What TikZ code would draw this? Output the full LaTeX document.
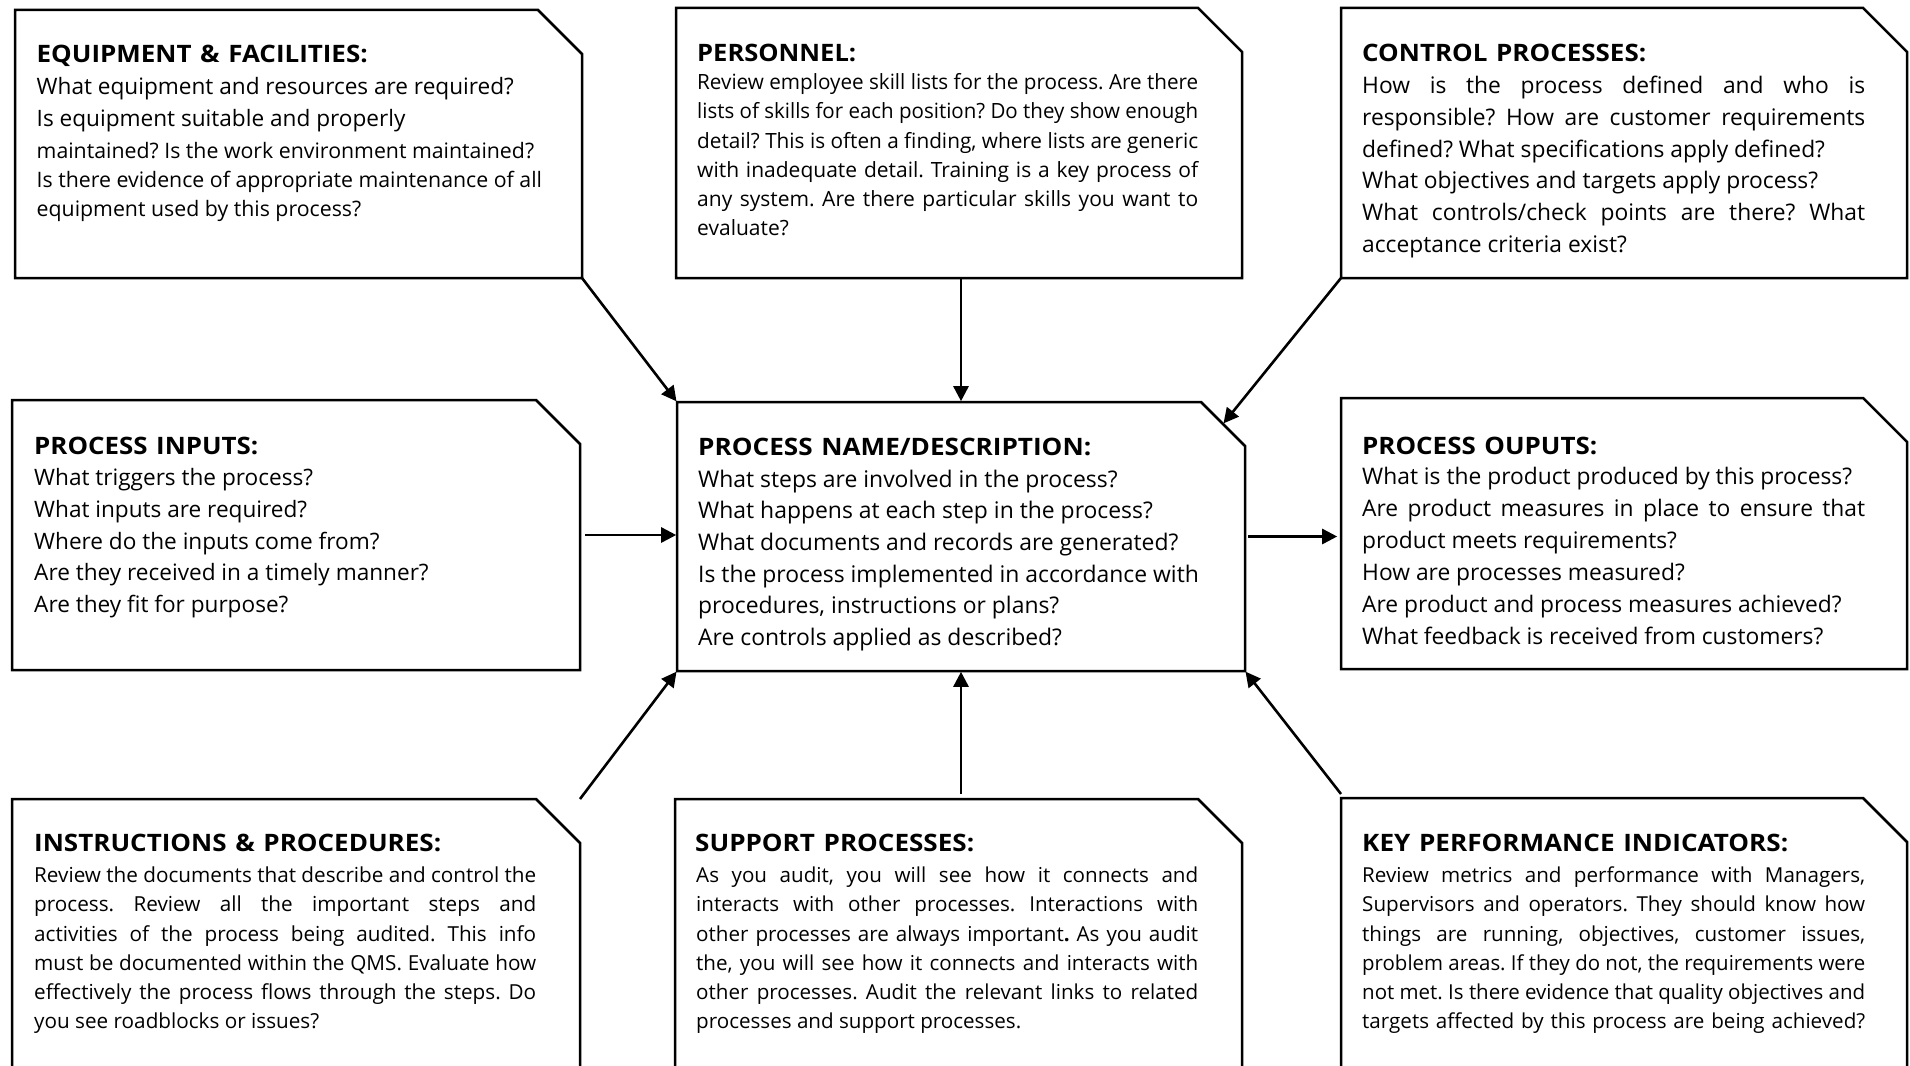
\documentclass[tikz,border=0pt]{standalone}
\usepackage{graphicx}
\usepackage{fontspec}
\setmainfont{Open Sans}
\usetikzlibrary{arrows.meta,fit}
\newsavebox\jlbox
\newcommand\jl[1]{\sbox\jlbox{\spaceskip=0pt\xspaceskip=0pt\frenchspacing #1}\ifdim\wd\jlbox>\linewidth\resizebox{\linewidth}{\height}{\usebox\jlbox}\else\makebox[\linewidth][s]{\spaceskip=0pt\xspaceskip=0pt\frenchspacing #1}\fi}
\newcommand\fitw[2]{\resizebox{#1pt}{\height}{#2}}
\newcommand\fs[2]{\fontsize{#1pt}{#2pt}\selectfont\frenchspacing}
\newcommand\chbox[1]{\draw[boxline] (#1.south west) -- (#1.north west) -- ([xshift=-44pt]#1.north east) -- ([yshift=-44pt]#1.north east) -- (#1.south east) -- cycle;}
\tikzset{
 boxn/.style={inner sep=0pt, outer sep=0pt, draw=none},
 boxline/.style={line width=2.5pt, line join=miter},
 ttl/.style={anchor=base west, inner sep=0pt, text width=500pt, align=left, font=\fs{24}{28}\bfseries},
 body/.style={anchor=base west, inner sep=0pt, align=justify},
 arr/.style={line width=2.6pt, -{Triangle[length=15pt,width=15pt]}, shorten >=0.8pt}
}
\begin{document}
\frenchspacing
\begin{tikzpicture}[x=1pt,y=-1pt]
\useasboundingbox (0,0) rectangle (1910,1065);
\fill[white] (0,0) rectangle (1910,1065);
\clip (0,0) rectangle (1910,1065);
% boxes
\node[boxn, fit={(15,10) (582,278)}] (B1) {};
\node[boxn, fit={(676,8) (1242,278)}] (B2) {};
\node[boxn, fit={(1341,8) (1907,278)}] (B3) {};
\node[boxn, fit={(12,400) (580,670)}] (B4) {};
\node[boxn, fit={(677,402) (1245,671)}] (B5) {};
\node[boxn, fit={(1341,398) (1907,669)}] (B6) {};
\node[boxn, fit={(12,799) (580,1080)}] (B7) {};
\node[boxn, fit={(675,799) (1242,1080)}] (B8) {};
\node[boxn, fit={(1341,798) (1907,1080)}] (B9) {};
\chbox{B1}\chbox{B2}\chbox{B3}\chbox{B4}\chbox{B5}\chbox{B6}\chbox{B7}\chbox{B8}\chbox{B9}
% titles
\node[ttl] (T1) at (36.5,62.2) {\fitw{331}{EQUIPMENT \& FACILITIES:}};
\node[ttl] (T2) at (697,61.2) {\fitw{159}{PERSONNEL:}};
\node[ttl] (T3) at (1362,61.2) {\fitw{284}{CONTROL PROCESSES:}};
\node[ttl] (T4) at (34,454.2) {\fitw{224}{PROCESS INPUTS:}};
\node[ttl] (T5) at (698,455.2) {\fitw{393}{PROCESS NAME/DESCRIPTION:}};
\node[ttl] (T6) at (1362,454.2) {\fitw{235}{PROCESS OUPUTS:}};
\node[ttl] (T7) at (34,851.2) {\fitw{407}{INSTRUCTIONS \& PROCEDURES:}};
\node[ttl] (T8) at (695,851.2) {\fitw{279}{SUPPORT PROCESSES:}};
\node[ttl] (T9) at (1362,851.2) {\fitw{426}{KEY PERFORMANCE INDICATORS:}};
% bodies
\node[body, text width=540pt, font=\fs{22.6}{31.6}] (b1a) at (36.5,94.9)
 {What equipment and resources are required?\\Is equipment suitable and properly};
\node[body, text width=540pt, font=\fs{21.3}{29.2}] (b1b) at (36.5,158.4)
 {maintained? Is the work environment maintained?\\Is there evidence of appropriate maintenance of all\\equipment used by this process?};
\node[body, text width=501pt, font=\fs{21}{29.24}] (b2) at (697,89.7)
 {\jl{Review employee skill lists for the process. Are there}\\
  \jl{lists of skills for each position? Do they show enough}\\
  \jl{detail? This is often a finding, where lists are generic}\\
  \jl{with inadequate detail. Training is a key process of}\\
  \jl{any system. Are there particular skills you want to}\\
  evaluate?};
\node[body, text width=503pt, font=\fs{22.8}{31.66}] (b3) at (1362,93.7)
 {\jl{How is the process defined and who is}\\
  \jl{responsible? How are customer requirements}\\
  defined? What specifications apply defined?\\
  What objectives and targets apply process?\\
  \jl{What controls/check points are there? What}\\
  acceptance criteria exist?};
\node[body, text width=540pt, font=\fs{22.6}{31.65}] (b4) at (34,485.9)
 {What triggers the process?\\What inputs are required?\\Where do the inputs come from?\\Are they received in a timely manner?\\Are they fit for purpose?};
\node[body, text width=540pt, font=\fs{22.9}{31.66}] (b5) at (698,487.1)
 {What steps are involved in the process?\\What happens at each step in the process?\\What documents and records are generated?\\Is the process implemented in accordance with\\procedures, instructions or plans?\\Are controls applied as described?};
\node[body, text width=503pt, font=\fs{22.8}{31.9}] (b6) at (1362,484.6)
 {What is the product produced by this process?\\
  \jl{Are product measures in place to ensure that}\\
  product meets requirements?\\How are processes measured?\\Are product and process measures achieved?\\What feedback is received from customers?};
\node[body, text width=502pt, font=\fs{20.7}{29.24}] (b7) at (34,882.6)
 {\jl{Review the documents that describe and control the}\\
  \jl{process. Review all the important steps and}\\
  \jl{activities of the process being audited. This info}\\
  \jl{must be documented within the QMS. Evaluate how}\\
  \jl{effectively the process flows through the steps. Do}\\
  you see roadblocks or issues?};
\node[body, text width=502pt, font=\fs{20.6}{29.24}] (b8) at (696,882.6)
 {\jl{As you audit, you will see how it connects and}\\
  \jl{interacts with other processes. Interactions with}\\
  \jl{other processes are always important\textbf{.} As you audit}\\
  \jl{the, you will see how it connects and interacts with}\\
  \jl{other processes. Audit the relevant links to related}\\
  processes and support processes.};
\node[body, text width=503pt, font=\fs{20.6}{29.24}] (b9) at (1362,882.6)
 {\jl{Review metrics and performance with Managers,}\\
  \jl{Supervisors and operators. They should know how}\\
  \jl{things are running, objectives, customer issues,}\\
  \jl{problem areas. If they do not, the requirements were}\\
  \jl{not met. Is there evidence that quality objectives and}\\
  \jl{targets affected by this process are being achieved?}};
% connectors
\path (B4.east) ++(5,0) coordinate (s4);
\path (B5.east) ++(3,0) coordinate (s5);
\path (B5.south |- B8.north) ++(0,-5) coordinate (s8);
\path (B9.north west) ++(0,-4) coordinate (s9);
\path (B5.north east) ++(-22,22) coordinate (ch5);
\draw[arr] (B1.south east) -- (B5.north west);
\draw[arr] (B5.north |- B2.south) -- (B5.north);
\draw[arr] (B3.south west) -- (ch5);
\draw[arr] (s4) -- (s4 -| B5.west);
\draw[arr] (s5) -- ([xshift=-3pt]s5 -| B6.west);
\draw[arr] (B7.north east) -- (B5.south west);
\draw[arr] (s8) -- (B5.south);
\draw[arr] (s9) -- (B5.south east);
\end{tikzpicture}
\end{document}
